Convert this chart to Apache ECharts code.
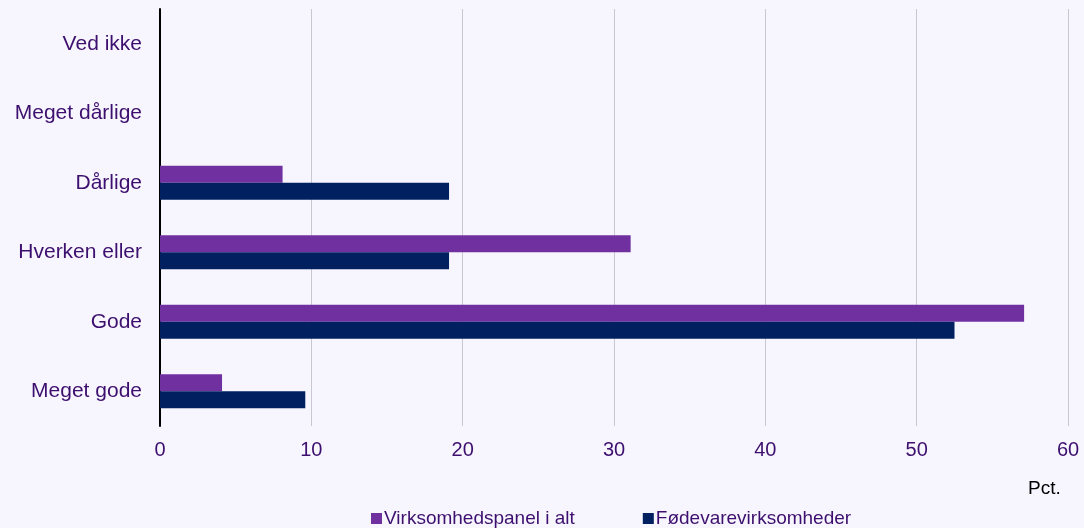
<!DOCTYPE html>
<html>
<head>
<meta charset="utf-8">
<script src="https://cdn.jsdelivr.net/npm/echarts@6/dist/echarts.min.js"></script>
<style>
  html, body { margin: 0; padding: 0; background: #F7F6FE; }
  #chart { width: 1084px; height: 528px; }
</style>
</head>
<body>
<div id="chart"></div>
<script>
// kategorier, nederst til øverst
var categories = ['Meget gode', 'Gode', 'Hverken eller', 'Dårlige', 'Meget dårlige', 'Ved ikke'];
var panelValues = [4.1, 57.1, 31.1, 8.1, null, null];
var foodValues = [9.6, 52.5, 19.1, 19.1, null, null];
var seriesNames = ['Virksomhedspanel i alt', 'Fødevarevirksomheder'];

var textColor = '#3D0F6E';
var fontName = 'Liberation Sans, Arial, sans-serif';
var myChart = echarts.init(document.getElementById('chart'));
var option = {
  backgroundColor: '#F7F6FE',
  animation: false,
  textStyle: { fontFamily: fontName },
  grid: { left: 160, right: 16, top: 9, bottom: 102 },
  legend: {
    bottom: -5,
    left: 366,
    itemWidth: 11,
    itemHeight: 11,
    itemGap: 68,
    icon: 'rect',
    textStyle: { color: textColor, fontSize: 19, padding: [0, 0, 0, -3] },
    data: seriesNames
  },
  xAxis: {
    type: 'value',
    min: 0,
    max: 60,
    interval: 10,
    axisLine: { show: false },
    axisTick: { show: false },
    splitLine: { lineStyle: { color: '#C9C8D2', width: 1 } },
    axisLabel: { color: textColor, fontSize: 20, margin: 14 }
  },
  yAxis: {
    type: 'category',
    data: categories,
    axisLine: { show: true, lineStyle: { color: '#000000', width: 2 } },
    axisTick: { show: false },
    axisLabel: { color: textColor, fontSize: 21, margin: 18 }
  },
  graphic: [{
    type: 'text',
    left: 1028,
    top: 479,
    style: { text: 'Pct.', fill: '#000000', fontSize: 19, fontFamily: fontName }
  }],
  series: [
    {
      name: seriesNames[0],
      type: 'bar',
      barWidth: 17,
      barGap: '0%',
      itemStyle: { color: '#7030A0' },
      data: panelValues
    },
    {
      name: seriesNames[1],
      type: 'bar',
      barWidth: 17,
      barGap: '0%',
      itemStyle: { color: '#002060' },
      data: foodValues
    }
  ]
};
myChart.setOption(option);
</script>
</body>
</html>
